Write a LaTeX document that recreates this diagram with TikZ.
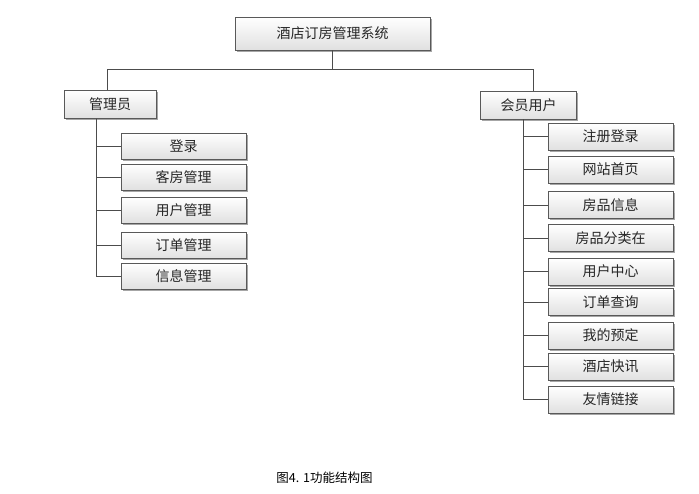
\documentclass[tikz,border=0pt]{standalone}
\usepackage{fontspec}
\newfontfamily\cjk{Noto Sans CJK SC}
\usetikzlibrary{shadows}

\begin{document}
\begin{tikzpicture}[x=1pt,y=-1pt,
    box/.style={draw=black!65, line width=0.8pt, top color=white, bottom color=black!12,
        drop shadow={shadow xshift=1.5pt,shadow yshift=-1.5pt,fill=black!35,opacity=1},
        font=\cjk\fontsize{14}{16}\selectfont, text=black!85, inner sep=0pt},
    link/.style={draw=black!70, line width=0.8pt}]
            \useasboundingbox (0,0) rectangle (699,493);

            % root and the two branches
            \node[box, minimum width=195pt, minimum height=33pt] (sys) at (332.5,33.5) {酒店订房管理系统};
            \node[box, minimum width=92pt, minimum height=28pt] (admin) at (110,104.5) {管理员};
            \node[box, minimum width=96pt, minimum height=28pt] (member) at (528.7,105) {会员用户};

            % admin items
            \node[box, minimum width=125pt, minimum height=26pt] (login) at (183.5,146) {登录};
            \node[box, minimum width=125pt, minimum height=26pt] (rooms) at (183.5,177) {客房管理};
            \node[box, minimum width=125pt, minimum height=26pt] (users) at (183.5,210) {用户管理};
            \node[box, minimum width=125pt, minimum height=26pt] (orders) at (183.5,245.5) {订单管理};
            \node[box, minimum width=125pt, minimum height=26pt] (infos) at (183.5,276) {信息管理};

            % member items
            \node[box, minimum width=125pt, minimum height=27pt] (reg) at (610.5,136.5) {注册登录};
            \node[box, minimum width=125pt, minimum height=27pt] (home) at (610.5,169.5) {网站首页};
            \node[box, minimum width=125pt, minimum height=27pt] (roominfo) at (610.5,205) {房品信息};
            \node[box, minimum width=125pt, minimum height=27pt] (roomcat) at (610.5,238) {房品分类在};
            \node[box, minimum width=125pt, minimum height=27pt] (ucenter) at (610.5,271.5) {用户中心};
            \node[box, minimum width=125pt, minimum height=27pt] (query) at (610.5,302) {订单查询};
            \node[box, minimum width=125pt, minimum height=27pt] (booking) at (610.5,335.5) {我的预定};
            \node[box, minimum width=125pt, minimum height=27pt] (news) at (610.5,366.5) {酒店快讯};
            \node[box, minimum width=125pt, minimum height=27pt] (links) at (610.5,399.5) {友情链接};

            \node (cap) at (324.5,478) {\cjk\fontsize{12.5}{14}\selectfont 图4. 1功能结构图};

            % connectors
            \coordinate (fork) at ([yshift=-19pt]sys.south);
            \draw[link] (sys.south) -- (fork);
            \draw[link] (fork) -| ([xshift=-3pt]admin.north);
            \draw[link] (fork) -| ([xshift=5pt]member.north);

            \coordinate (atrunk) at ([xshift=-13.3pt]admin.south);
            \draw[link] (atrunk) |- (login.west);
            \draw[link] (atrunk) |- (rooms.west);
            \draw[link] (atrunk) |- (users.west);
            \draw[link] (atrunk) |- (orders.west);
            \draw[link] (atrunk) |- (infos.west);

            \coordinate (mtrunk) at ([xshift=-5.7pt]member.south);
            \draw[link] (mtrunk) |- (reg.west);
            \draw[link] (mtrunk) |- (home.west);
            \draw[link] (mtrunk) |- (roominfo.west);
            \draw[link] (mtrunk) |- (roomcat.west);
            \draw[link] (mtrunk) |- (ucenter.west);
            \draw[link] (mtrunk) |- (query.west);
            \draw[link] (mtrunk) |- (booking.west);
            \draw[link] (mtrunk) |- (news.west);
            \draw[link] (mtrunk) |- (links.west);
        \end{tikzpicture}
\end{document}
